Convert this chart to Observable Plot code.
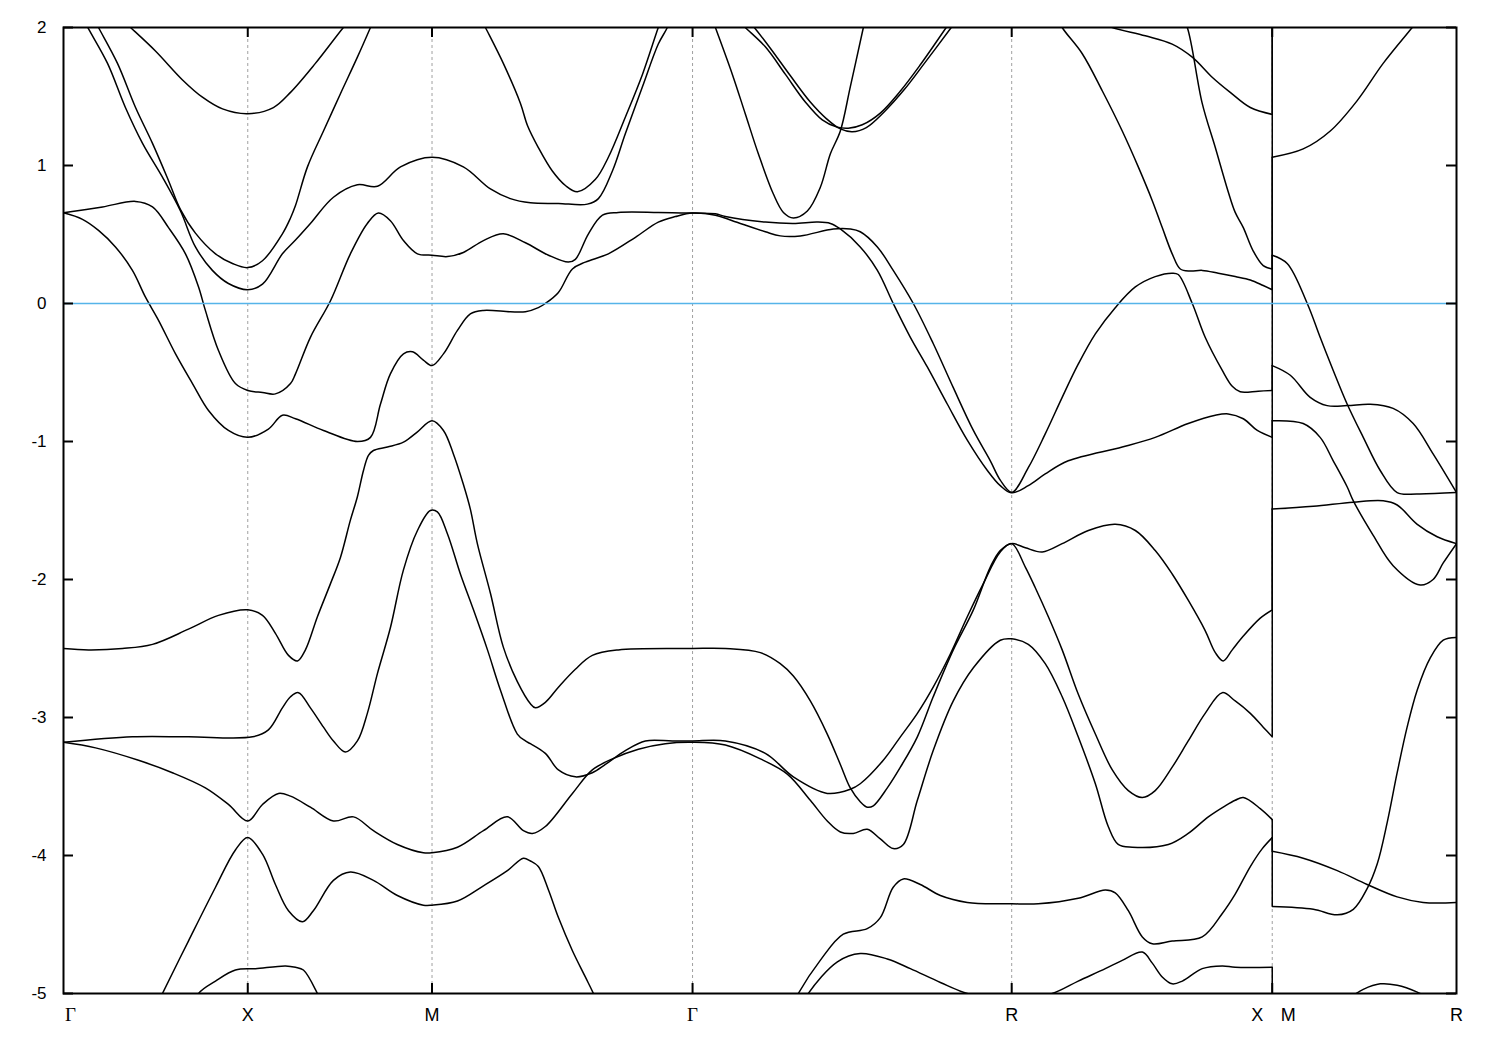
<!DOCTYPE html>
<html><head><meta charset="utf-8">
<script src="https://cdn.jsdelivr.net/npm/d3@7"></script>
<script src="https://cdn.jsdelivr.net/npm/@observablehq/plot@0.6"></script>
<style>body{margin:0;background:#fff;} #chart{width:1500px;height:1050px;}</style>
</head><body><div id="chart"></div>
<script>
// High-symmetry points along the k-path (path length units) and their labels
const symK = [0, 1, 2, 3.414, 5.146, 6.560, 7.560];
const symLabels = ["Γ", "X", "M", "Γ", "R", "X M", "R"];
const yTicks = [-5, -4, -3, -2, -1, 0, 1, 2];

// Band pieces: [k, E(eV)]
const band1GX = [[0.282,2.1],[0.364,2.0],[0.499,1.83],[0.646,1.62],[0.754,1.495],[0.863,1.41],[1,1.375],[1.139,1.42],[1.232,1.53],[1.367,1.74],[1.519,2.0],[1.584,2.1]];
const band1RX = [[5.600,2.05],[5.692,2.0],[5.871,1.94],[6.017,1.88],[6.126,1.785],[6.234,1.64],[6.332,1.53],[6.441,1.42],[6.560,1.37]];
const band1MR = [[6.560,2.3]];

const band2GX = [[0.147,2.11],[0.190,2.0],[0.293,1.74],[0.391,1.42],[0.483,1.16],[0.570,0.89],[0.635,0.68],[0.716,0.51],[0.825,0.36],[0.917,0.29],[1,0.26],[1.080,0.31],[1.188,0.505],[1.232,0.62],[1.259,0.71],[1.324,0.99],[1.411,1.25],[1.503,1.52],[1.595,1.785],[1.666,2.0],[1.698,2.1]];
const band2RX = [[6.061,2.1],[6.099,2.0],[6.180,1.45],[6.251,1.13],[6.321,0.81],[6.359,0.66],[6.403,0.55],[6.457,0.38],[6.511,0.275],[6.560,0.25]];
const band2MR = [[6.560,2.2]];

const band3GX = [[0.092,2.1],[0.136,1.99],[0.239,1.74],[0.336,1.42],[0.429,1.16],[0.537,0.915],[0.635,0.67],[0.716,0.41],[0.808,0.24],[0.895,0.145],[1,0.10],[1.080,0.14],[1.188,0.36],[1.259,0.46],[1.340,0.58],[1.465,0.77],[1.595,0.86],[1.704,0.85],[1.829,0.99],[2,1.06],[2.170,0.99],[2.317,0.83],[2.425,0.76],[2.534,0.73],[2.686,0.725],[2.843,0.72],[2.903,0.76],[2.979,0.96],[3.049,1.23],[3.142,1.57],[3.228,1.88],[3.277,2.0],[3.304,2.1]];
const band3RX = [[5.383,2.1],[5.420,2.0],[5.529,1.81],[5.638,1.54],[5.746,1.25],[5.833,0.99],[5.909,0.745],[5.963,0.55],[6.017,0.36],[6.061,0.25],[6.115,0.235],[6.180,0.24],[6.267,0.22],[6.359,0.195],[6.441,0.17],[6.511,0.13],[6.560,0.10]];
const band3MR = [[6.560,1.06],[6.728,1.12],[6.875,1.25],[7.021,1.47],[7.162,1.74],[7.320,2.0],[7.363,2.07]];

const band4GX = [[0,0.657],[0.212,0.70],[0.391,0.74],[0.483,0.70],[0.570,0.55],[0.662,0.36],[0.733,0.12],[0.770,-0.05],[0.841,-0.34],[0.933,-0.58],[1,-0.63],[1.080,-0.645],[1.150,-0.655],[1.232,-0.58],[1.259,-0.51],[1.340,-0.245],[1.449,0.02],[1.557,0.36],[1.649,0.58],[1.709,0.655],[1.774,0.60],[1.845,0.456],[1.921,0.36],[2,0.35],[2.084,0.34],[2.170,0.37],[2.279,0.456],[2.387,0.505],[2.507,0.44],[2.632,0.35],[2.740,0.30],[2.778,0.32],[2.849,0.505],[2.925,0.64],[3.011,0.66],[3.228,0.66],[3.414,0.655],[3.538,0.65],[3.592,0.63],[3.809,0.59],[3.961,0.58],[4.091,0.59],[4.162,0.58],[4.216,0.54],[4.324,0.41],[4.417,0.24],[4.503,0.0],[4.596,-0.245],[4.688,-0.46],[4.797,-0.73],[4.905,-0.99],[5.014,-1.21],[5.084,-1.32],[5.146,-1.37],[5.236,-1.19],[5.328,-0.945],[5.420,-0.68],[5.507,-0.44],[5.600,-0.22],[5.708,-0.03],[5.817,0.12],[5.925,0.195],[6.017,0.22],[6.050,0.21],[6.126,0.0],[6.196,-0.245],[6.289,-0.485],[6.343,-0.60],[6.386,-0.64],[6.484,-0.635],[6.560,-0.63]];
const band4MR = [[6.560,0.35],[6.641,0.29],[6.750,0.0],[6.820,-0.245],[6.891,-0.485],[6.967,-0.73],[7.054,-0.97],[7.146,-1.21],[7.238,-1.37],[7.347,-1.38],[7.560,-1.37]];

const band5GX = [[0,0.657],[0.103,0.61],[0.190,0.53],[0.282,0.41],[0.374,0.24],[0.445,0.046],[0.515,-0.12],[0.608,-0.365],[0.700,-0.58],[0.787,-0.775],[0.895,-0.92],[1,-0.97],[1.112,-0.91],[1.188,-0.81],[1.259,-0.835],[1.411,-0.92],[1.595,-1.0],[1.666,-0.97],[1.720,-0.73],[1.774,-0.51],[1.845,-0.365],[1.894,-0.35],[1.953,-0.41],[2,-0.45],[2.062,-0.365],[2.138,-0.195],[2.208,-0.075],[2.279,-0.05],[2.425,-0.06],[2.507,-0.06],[2.577,-0.03],[2.615,0.0],[2.686,0.08],[2.762,0.25],[2.832,0.30],[2.957,0.36],[3.104,0.48],[3.228,0.59],[3.321,0.63],[3.414,0.655],[3.538,0.64],[3.630,0.60],[3.809,0.52],[3.890,0.49],[3.999,0.49],[4.178,0.54],[4.270,0.54],[4.324,0.52],[4.417,0.41],[4.503,0.24],[4.612,0.0],[4.720,-0.29],[4.829,-0.61],[4.938,-0.92],[5.030,-1.14],[5.084,-1.28],[5.146,-1.37],[5.236,-1.32],[5.328,-1.235],[5.453,-1.14],[5.746,-1.04],[5.925,-0.97],[6.104,-0.87],[6.251,-0.81],[6.321,-0.80],[6.403,-0.835],[6.479,-0.92],[6.560,-0.97]];
const band5MR = [[6.560,-0.45],[6.658,-0.52],[6.766,-0.68],[6.858,-0.74],[6.967,-0.74],[7.092,-0.73],[7.216,-0.76],[7.325,-0.87],[7.433,-1.09],[7.560,-1.37]];

const band6GX = [[0,-2.50],[0.136,-2.51],[0.320,-2.50],[0.483,-2.47],[0.678,-2.36],[0.841,-2.26],[1,-2.22],[1.080,-2.26],[1.150,-2.39],[1.221,-2.55],[1.270,-2.59],[1.313,-2.51],[1.378,-2.27],[1.449,-2.03],[1.503,-1.84],[1.557,-1.57],[1.595,-1.40],[1.628,-1.21],[1.655,-1.10],[1.682,-1.065],[1.758,-1.04],[1.845,-1.005],[1.921,-0.93],[2,-0.85],[2.062,-0.92],[2.116,-1.09],[2.170,-1.31],[2.208,-1.49],[2.246,-1.74],[2.317,-2.10],[2.387,-2.49],[2.463,-2.74],[2.534,-2.90],[2.561,-2.93],[2.615,-2.89],[2.686,-2.78],[2.778,-2.65],[2.870,-2.55],[3.011,-2.51],[3.414,-2.50],[3.592,-2.50],[3.782,-2.53],[3.890,-2.61],[3.961,-2.70],[4.053,-2.88],[4.145,-3.12],[4.216,-3.34],[4.270,-3.51],[4.324,-3.61],[4.362,-3.65],[4.395,-3.64],[4.471,-3.51],[4.542,-3.36],[4.634,-3.14],[4.720,-2.85],[4.829,-2.51],[4.938,-2.22],[5.030,-1.91],[5.084,-1.79],[5.146,-1.74],[5.220,-1.77],[5.312,-1.80],[5.420,-1.74],[5.562,-1.645],[5.708,-1.60],[5.817,-1.645],[5.925,-1.79],[6.017,-1.96],[6.104,-2.15],[6.196,-2.37],[6.251,-2.53],[6.294,-2.59],[6.343,-2.51],[6.403,-2.41],[6.495,-2.28],[6.560,-2.22]];
const band6MR = [[6.560,-0.85],[6.728,-0.87],[6.820,-0.97],[6.891,-1.14],[6.967,-1.33],[7.000,-1.43],[7.108,-1.68],[7.216,-1.90],[7.363,-2.04],[7.433,-2.0],[7.488,-1.88],[7.560,-1.74]];

const band7GX = [[0,-3.18],[0.374,-3.14],[0.678,-3.14],[1.026,-3.14],[1.112,-3.09],[1.188,-2.93],[1.232,-2.85],[1.275,-2.82],[1.340,-2.93],[1.411,-3.07],[1.465,-3.17],[1.530,-3.25],[1.595,-3.17],[1.649,-2.97],[1.704,-2.68],[1.774,-2.35],[1.845,-1.93],[1.921,-1.645],[1.991,-1.50],[2.029,-1.51],[2.084,-1.67],[2.154,-1.96],[2.225,-2.22],[2.301,-2.51],[2.371,-2.80],[2.463,-3.12],[2.507,-3.17],[2.534,-3.19],[2.615,-3.26],[2.686,-3.38],[2.778,-3.43],[2.870,-3.40],[2.941,-3.34],[3.049,-3.24],[3.158,-3.17],[3.304,-3.17],[3.414,-3.17],[3.592,-3.17],[3.809,-3.26],[3.961,-3.43],[4.145,-3.55],[4.270,-3.52],[4.324,-3.48],[4.449,-3.31],[4.542,-3.14],[4.634,-2.97],[4.720,-2.78],[4.813,-2.54],[4.905,-2.27],[4.992,-2.03],[5.084,-1.80],[5.146,-1.74],[5.220,-1.91],[5.274,-2.06],[5.345,-2.27],[5.420,-2.51],[5.507,-2.83],[5.600,-3.12],[5.692,-3.38],[5.779,-3.53],[5.855,-3.58],[5.925,-3.53],[6.017,-3.36],[6.104,-3.17],[6.196,-2.97],[6.289,-2.82],[6.359,-2.88],[6.441,-2.97],[6.511,-3.07],[6.560,-3.14]];
const band7MR = [[6.560,-1.49],[6.783,-1.47],[7.000,-1.44],[7.162,-1.43],[7.238,-1.46],[7.347,-1.60],[7.455,-1.69],[7.560,-1.74]];

const band8GX = [[0,-3.18],[0.174,-3.22],[0.407,-3.31],[0.591,-3.40],[0.770,-3.51],[0.895,-3.63],[1,-3.75],[1.080,-3.63],[1.167,-3.55],[1.232,-3.57],[1.340,-3.65],[1.465,-3.75],[1.574,-3.72],[1.682,-3.82],[1.812,-3.92],[1.953,-3.98],[2,-3.98],[2.138,-3.94],[2.279,-3.82],[2.409,-3.72],[2.496,-3.82],[2.545,-3.84],[2.615,-3.79],[2.762,-3.55],[2.870,-3.38],[2.979,-3.30],[3.120,-3.23],[3.266,-3.19],[3.414,-3.18],[3.592,-3.20],[3.782,-3.30],[3.928,-3.41],[4.053,-3.60],[4.145,-3.75],[4.216,-3.83],[4.286,-3.84],[4.362,-3.81],[4.433,-3.88],[4.503,-3.95],[4.558,-3.92],[4.634,-3.60],[4.720,-3.24],[4.829,-2.88],[4.938,-2.64],[5.084,-2.44],[5.146,-2.43],[5.236,-2.47],[5.328,-2.61],[5.420,-2.85],[5.507,-3.14],[5.600,-3.48],[5.670,-3.79],[5.724,-3.92],[5.800,-3.94],[5.996,-3.92],[6.104,-3.84],[6.213,-3.72],[6.305,-3.64],[6.359,-3.60],[6.403,-3.58],[6.495,-3.66],[6.560,-3.74]];
const band8MR = [[6.560,-3.97],[6.728,-4.02],[6.913,-4.11],[7.075,-4.21],[7.238,-4.30],[7.379,-4.34],[7.560,-4.34]];

const band9GX = [[0.472,-5.18],[0.537,-5.0],[0.678,-4.62],[0.825,-4.23],[0.933,-3.96],[1,-3.87],[1.080,-3.99],[1.150,-4.21],[1.221,-4.40],[1.297,-4.48],[1.356,-4.40],[1.465,-4.18],[1.557,-4.12],[1.682,-4.18],[1.812,-4.29],[1.953,-4.36],[2,-4.36],[2.138,-4.33],[2.279,-4.22],[2.409,-4.11],[2.496,-4.02],[2.534,-4.04],[2.577,-4.08],[2.632,-4.25],[2.686,-4.45],[2.762,-4.69],[2.832,-4.88],[2.876,-5.0],[2.914,-5.12]];
const band9RX = [[3.945,-5.12],[3.988,-5.0],[4.107,-4.76],[4.232,-4.57],[4.362,-4.53],[4.433,-4.45],[4.503,-4.23],[4.558,-4.17],[4.650,-4.21],[4.759,-4.29],[4.905,-4.34],[5.084,-4.35],[5.146,-4.35],[5.290,-4.35],[5.507,-4.31],[5.654,-4.25],[5.708,-4.27],[5.779,-4.40],[5.855,-4.59],[5.909,-4.64],[6.017,-4.62],[6.180,-4.59],[6.289,-4.42],[6.359,-4.28],[6.441,-4.08],[6.506,-3.95],[6.560,-3.87]];
const band9MR = [[6.560,-4.37],[6.783,-4.39],[6.913,-4.43],[7.000,-4.39],[7.075,-4.24],[7.130,-4.06],[7.184,-3.76],[7.238,-3.40],[7.292,-3.07],[7.347,-2.80],[7.417,-2.57],[7.488,-2.44],[7.560,-2.42]];

const band10GX = [[0.700,-5.12],[0.733,-5.0],[0.825,-4.91],[0.933,-4.83],[1.042,-4.82],[1.205,-4.80],[1.259,-4.81],[1.302,-4.83],[1.378,-5.0],[1.411,-5.1]];
const band10RX = [[3.999,-5.12],[4.042,-5.0],[4.200,-4.77],[4.324,-4.71],[4.471,-4.75],[4.596,-4.82],[4.759,-4.92],[4.905,-5.0],[5.146,-5.06],[5.366,-5.0],[5.507,-4.91],[5.654,-4.82],[5.746,-4.76],[5.855,-4.70],[5.909,-4.78],[5.963,-4.88],[6.017,-4.93],[6.072,-4.91],[6.180,-4.82],[6.289,-4.80],[6.359,-4.81],[6.560,-4.81]];
const band10MR = [[6.560,-5.3],[6.956,-5.05],[7.054,-4.97],[7.146,-4.93],[7.238,-4.94],[7.347,-4.99],[7.472,-5.08],[7.560,-5.12]];

// Upper bands entering from above the window
const topMG = [[2.252,2.1],[2.290,2.0],[2.387,1.74],[2.480,1.45],[2.518,1.29],[2.577,1.13],[2.653,0.96],[2.724,0.855],[2.789,0.81],[2.887,0.90],[2.957,1.06],[3.049,1.35],[3.142,1.66],[3.228,2.0],[3.256,2.1]];
const topGR = [[3.511,2.1],[3.538,2.0],[3.630,1.66],[3.700,1.375],[3.771,1.085],[3.852,0.795],[3.907,0.66],[3.961,0.62],[4.037,0.67],[4.107,0.84],[4.162,1.085],[4.216,1.25],[4.270,1.57],[4.341,2.0],[4.357,2.1]];
const pairGR1 = [[3.663,2.05],[3.700,2.0],[3.809,1.86],[3.918,1.66],[4.026,1.46],[4.118,1.33],[4.194,1.28],[4.259,1.27],[4.335,1.295],[4.433,1.38],[4.542,1.54],[4.650,1.73],[4.791,2.0],[4.818,2.05]];
const pairGR2 = [[3.717,2.05],[3.749,2.0],[3.836,1.85],[3.945,1.65],[4.053,1.46],[4.140,1.34],[4.216,1.265],[4.281,1.245],[4.357,1.275],[4.455,1.39],[4.563,1.55],[4.672,1.74],[4.818,2.0],[4.845,2.05]];

const pieces = {band1GX, band1RX, band1MR, band2GX, band2RX, band2MR, band3GX, band3RX, band3MR,
  band4GX, band4MR, band5GX, band5MR, band6GX, band6MR, band7GX, band7MR, band8GX, band8MR,
  band9GX, band9RX, band9MR, band10GX, band10RX, band10MR, topMG, topGR, pairGR1, pairGR2};
const lineData = Object.entries(pieces).flatMap(([id, pts]) => pts.map(([k, e]) => ({id, k, e})));

// Each band jumps from its X value to its M value at the path break
const jumps = [[band1RX, band1MR], [band2RX, band2MR], [band3RX, band3MR], [band4GX, band4MR],
  [band5GX, band5MR], [band6GX, band6MR], [band7GX, band7MR], [band8GX, band8MR],
  [band9RX, band9MR], [band10RX, band10MR]]
  .map(([a, b]) => ({k: a[a.length - 1][0], e1: a[a.length - 1][1], e2: b[0][1]}));

const W = 1500, H = 1050, mL = 63, mR = 44, mT = 27, mB = 57;
const innerW = W - mL - mR, innerH = H - mT - mB;
const inner = symK.slice(1, -1);

// Tick labels; the break label "X M" is split into its two letters on either side of the break
const xLab = symK.flatMap((k, i) => {
  const parts = symLabels[i].split(" ");
  if (parts.length === 2) return [{k, t: parts[0], dx: -15}, {k, t: parts[1], dx: 16}];
  return [{k, t: parts[0], dx: i === 0 ? 7 : 0}];
});
const labelMarks = d3.groups(xLab, d => d.dx, d => d.t === "Γ").flatMap(([dx, byFont]) =>
  byFont.map(([greek, rows]) => Plot.text(rows, {
    x: "k", text: "t", dx, frameAnchor: "bottom", dy: 27, fill: "black",
    fontSize: greek ? 19 : 18,
    fontFamily: greek ? "'Liberation Serif', 'DejaVu Serif', serif" : "'Liberation Sans', Arial, sans-serif"
  })));

const chart = Plot.plot({
  width: W, height: H,
  marginLeft: mL, marginRight: mR, marginTop: mT, marginBottom: mB,
  x: {domain: [symK[0], symK[symK.length - 1]], axis: null},
  y: {domain: [-5, 2], axis: null},
  style: {background: "white", fontFamily: "'Liberation Sans', Arial, sans-serif", color: "black"},
  marks: [
    Plot.ruleX(inner, {stroke: "#a0a0a0", strokeWidth: 1, strokeDasharray: "3,3"}),
    Plot.line(lineData, {x: "k", y: "e", z: "id", stroke: "black", strokeWidth: 1.5, curve: "catmull-rom", clip: true}),
    Plot.ruleX(jumps, {x: "k", y1: "e1", y2: "e2", stroke: "black", strokeWidth: 1.5, clip: true}),
    Plot.ruleY([0], {stroke: "#56b4e9", strokeWidth: 1.7}),
    Plot.frame({stroke: "black", strokeWidth: 2}),
    Plot.tickY(yTicks, {stroke: "black", strokeWidth: 2, insetRight: innerW - 10}),
    Plot.tickY(yTicks, {stroke: "black", strokeWidth: 2, insetLeft: innerW - 10}),
    Plot.tickX(inner, {stroke: "black", strokeWidth: 2, insetBottom: innerH - 10}),
    Plot.tickX(inner, {stroke: "black", strokeWidth: 2, insetTop: innerH - 10}),
    Plot.text(yTicks, {y: d => d, text: d => String(d), frameAnchor: "left", dx: -17, textAnchor: "end", fontSize: 17, fill: "black"}),
    ...labelMarks
  ]
});
document.getElementById("chart").appendChild(chart);
</script>
</body></html>
